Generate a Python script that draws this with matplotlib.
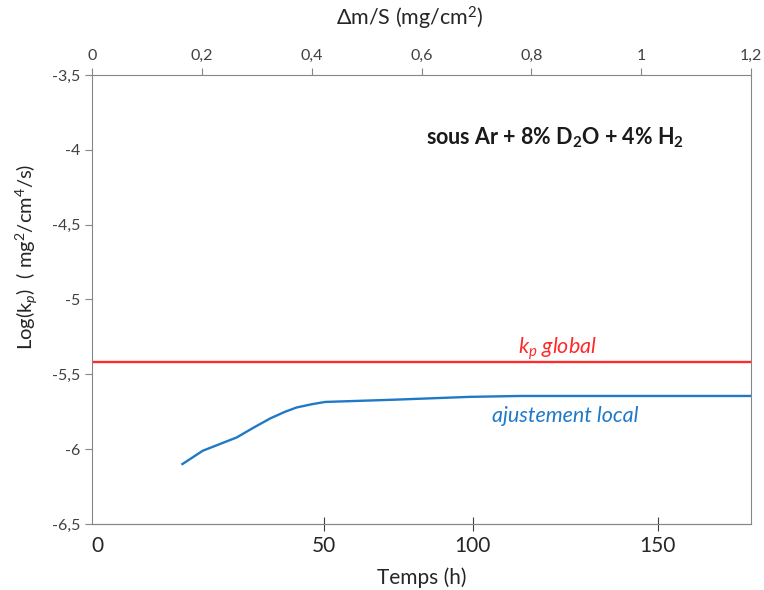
import numpy as np
import matplotlib
matplotlib.use("Agg")
import matplotlib.pyplot as plt
from matplotlib.ticker import FuncFormatter

plt.rcParams['font.family'] = ['Lato', 'DejaVu Sans']
plt.rcParams['mathtext.fontset'] = 'custom'
plt.rcParams['mathtext.rm'] = 'Lato'
plt.rcParams['mathtext.it'] = 'Lato:italic'
plt.rcParams['mathtext.bf'] = 'Lato:bold'

# data (x en Δm/S, mg/cm2)
kp_global = -5.42
dm_local = [0.164, 0.201, 0.263, 0.292, 0.324, 0.350, 0.372, 0.40, 0.424, 0.55, 0.688, 0.78, 1.2]
log_kp_local = [-6.10, -6.011, -5.922, -5.86, -5.795, -5.752, -5.722, -5.700, -5.685, -5.67, -5.651, -5.645, -5.645]

# graduations temps (h) placées sur l'échelle Δm/S
temps_labels = ["0", "50", "100", "150"]
temps_pos = [0.010, 0.422, 0.693, 1.030]

gris = '#868686'
texte = '#404040'
virgule = FuncFormatter(lambda v, p: f"{v:g}".replace('.', ','))

fig = plt.figure(figsize=(7.64, 5.90), dpi=100)
ax = fig.add_axes([0.121, 0.112, 0.862, 0.761])

ax.axhline(kp_global, color='#ff2a2a', lw=1.7)
ax.plot(dm_local, log_kp_local, color='#2079c7', lw=1.7)

ax.set_xlim(0, 1.2)
ax.set_ylim(-6.5, -3.5)
ax.set_yticks(np.arange(-6.5, -3.49, 0.5))
ax.yaxis.set_major_formatter(virgule)
ax.xaxis.tick_top()
ax.xaxis.set_label_position('top')
ax.set_xticks(np.arange(0, 1.21, 0.2))
ax.xaxis.set_major_formatter(virgule)
ax.tick_params(axis='both', colors=gris, labelcolor=texte, labelsize=11.5, length=5, direction='out')
for s in ax.spines.values():
    s.set_color(gris)

ax.set_xlabel("Δm/S (mg/cm$^2$)", fontsize=15.5, color='#262626', va='center')
ax.xaxis.set_label_coords(0.482, 1.125)
ax.set_ylabel("Log(k$_p$)  ( mg$^2$/cm$^4$/s)", fontsize=14.5, color='#262626', va='center')
ax.yaxis.set_label_coords(-0.1, 0.595)

bas = ax.secondary_xaxis('bottom')
bas.set_xticks(temps_pos, temps_labels)
bas.tick_params(colors='#404040', labelcolor='#262626', labelsize=15, length=10, direction='inout', pad=4)
bas.spines['bottom'].set_color(gris)
bas.set_xlabel("Temps (h)", fontsize=15, color='#262626', labelpad=8)
bas.xaxis.get_major_ticks()[0].tick1line.set_visible(False)

ax.text(0.608, -3.92, r"sous Ar + 8% D$_\mathbf{2}$O + 4% H$_\mathbf{2}$", fontsize=15.5,
        fontweight='bold', color='#1a1a1a', va='center')
ax.text(0.847, -5.33, "$k_p$ global", fontsize=15.5, style='italic', color='#ff2a2a', ha='center', va='center')
ax.text(0.862, -5.78, "ajustement local", fontsize=15.5, style='italic', color='#2079c7', ha='center', va='center')

fig.savefig("out.png", dpi=100)
